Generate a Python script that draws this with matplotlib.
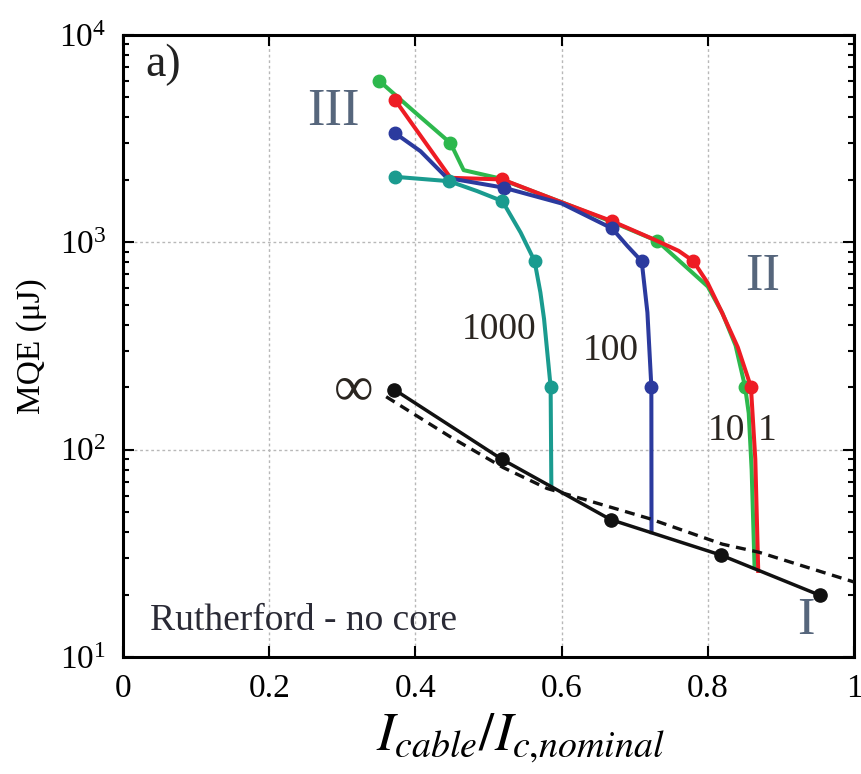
import numpy as np
import matplotlib
matplotlib.use('Agg')
import matplotlib.pyplot as plt
from matplotlib.ticker import LogLocator, NullFormatter, FixedLocator, FixedFormatter

plt.rcParams['font.family'] = ['Liberation Serif', 'DejaVu Serif']
plt.rcParams['mathtext.fontset'] = 'stix'

# ---- MQE vs normalised current, Rutherford cable without core ----
# green curve (RRR label "1")
green_x = [0.350, 0.398, 0.448, 0.466, 0.512, 0.60, 0.67, 0.731, 0.800, 0.820, 0.838, 0.851, 0.856, 0.860, 0.864]
green_y = [6030, 4280, 3010, 2229, 2047, 1560, 1250, 1014, 612, 455, 318, 201, 150, 80, 27]
green_mx = [0.350, 0.448, 0.731, 0.851]
green_my = [6030, 3010, 1014, 201]

# red curve ("10")
red_x = [0.372, 0.448, 0.519, 0.60, 0.669, 0.727, 0.760, 0.780, 0.7995, 0.818, 0.841, 0.859, 0.865, 0.869]
red_y = [4870, 2047, 2010, 1560, 1265, 1030, 910, 813, 640, 470, 312, 201, 90, 26]
red_mx = [0.372, 0.519, 0.669, 0.780, 0.859]
red_my = [4870, 2010, 1265, 813, 201]

# blue curve ("100")
blue_x = [0.372, 0.407, 0.443, 0.521, 0.60, 0.669, 0.690, 0.7096, 0.7174, 0.7228, 0.723]
blue_y = [3365, 2750, 2047, 1834, 1540, 1167, 960, 810, 459, 201, 40]
blue_mx = [0.372, 0.521, 0.669, 0.7096, 0.7228]
blue_my = [3365, 1834, 1167, 810, 201]

# teal curve ("1000")
teal_x = [0.372, 0.446, 0.4845, 0.519, 0.544, 0.563, 0.571, 0.576, 0.585, 0.586]
teal_y = [2070, 1972, 1766, 1580, 1114, 813, 573, 427, 201, 66]
teal_mx = [0.372, 0.446, 0.519, 0.563, 0.585]
teal_my = [2070, 1972, 1580, 813, 201]

# infinite RRR (black) and fit (dashed)
black_x = [0.371, 0.518, 0.667, 0.818, 0.954]
black_y = [195, 90, 46, 31, 19.8]
fit_x = [0.36, 0.45, 0.52, 0.58, 0.72, 0.82, 0.87, 1.0]
fit_y = [180, 114, 82, 65, 46.5, 35, 32, 23]

xtick_vals = [0, 0.2, 0.4, 0.6, 0.8, 1.0]
xtick_labels = ['0', '0.2', '0.4', '0.6', '0.8', '1']

fig = plt.figure(figsize=(8.62, 7.74), dpi=100)
ax = fig.add_axes([0.1427, 0.1512, 0.8480, 0.8036])

lw, ms = 2.9, 9
ax.plot(green_x, green_y, '-', color='#2db84d', lw=lw, zorder=3)
ax.plot(green_mx, green_my, 'o', color='#2db84d', ms=ms, zorder=3)
ax.plot(red_x, red_y, '-', color='#ee1c24', lw=lw, zorder=4)
ax.plot(red_mx, red_my, 'o', color='#ee1c24', ms=ms, zorder=4)
ax.plot(blue_x, blue_y, '-', color='#2b3a9e', lw=lw, zorder=5)
ax.plot(blue_mx, blue_my, 'o', color='#2b3a9e', ms=ms, zorder=5)
ax.plot(teal_x, teal_y, '-', color='#1a9b8f', lw=lw, zorder=6)
ax.plot(teal_mx, teal_my, 'o', color='#1a9b8f', ms=ms, zorder=6)
ax.plot(black_x, black_y, 'o-', color='#111111', lw=2.5, ms=9.5, zorder=7)
ax.plot(fit_x, fit_y, '--', color='#111111', lw=2.4, dashes=(3, 2), zorder=7)

ax.set_yscale('log')
ax.set_xlim(0, 1)
ax.set_ylim(10, 1e4)
ax.xaxis.set_major_locator(FixedLocator(xtick_vals))
ax.xaxis.set_major_formatter(FixedFormatter(xtick_labels))
ax.yaxis.set_major_locator(LogLocator(base=10, numticks=10))
ax.yaxis.set_minor_locator(LogLocator(base=10, subs=np.arange(2, 10), numticks=10))
ax.yaxis.set_minor_formatter(NullFormatter())

ax.grid(True, which='major', color='#b8b8b8', linestyle=(0, (2, 2)), lw=1.0, zorder=0)
ax.tick_params(which='both', direction='in', top=True, right=True, labelsize=24,
               width=1.5, pad=12)
ax.tick_params(which='major', length=8)
ax.tick_params(which='minor', length=4)
for sp in ax.spines.values():
    sp.set_linewidth(2.2)

ax.set_ylabel('MQE (μJ)', fontsize=24)
ax.yaxis.set_label_coords(-0.104, 0.5)
ax.set_xlabel(r'$I_{cable}/I_{c{,}nominal}$', fontsize=39)
ax.xaxis.set_label_coords(0.543, -0.088)

# annotations
ax.text(0.055, 10**3.856, 'a)', fontsize=33, color='#222222', ha='center', va='center')
region_col = '#56667c'
ax.text(0.288, 10**3.63, 'III', fontsize=38, color=region_col, ha='center', va='center')
ax.text(0.875, 10**2.832, 'II', fontsize=38, color=region_col, ha='center', va='center')
ax.text(0.934, 10**1.173, 'I', fontsize=38, color=region_col, ha='center', va='center')

lab_col = '#2a2520'
ax.text(0.514, 10**2.577, '1000', fontsize=27, color=lab_col, ha='center', va='center')
ax.text(0.667, 10**2.476, '100', fontsize=27, color=lab_col, ha='center', va='center')
ax.text(0.826, 10**2.091, '10', fontsize=27, color=lab_col, ha='center', va='center')
ax.text(0.881, 10**2.091, '1', fontsize=27, color=lab_col, ha='center', va='center')
ax.text(0.315, 10**2.288, '∞', fontsize=40, color=lab_col, ha='center', va='center')
ax.text(0.037, 10**1.13, 'Rutherford - no core', fontsize=27, color='#2a2a35',
        ha='left', va='baseline')

fig.savefig('out.png', dpi=100)
